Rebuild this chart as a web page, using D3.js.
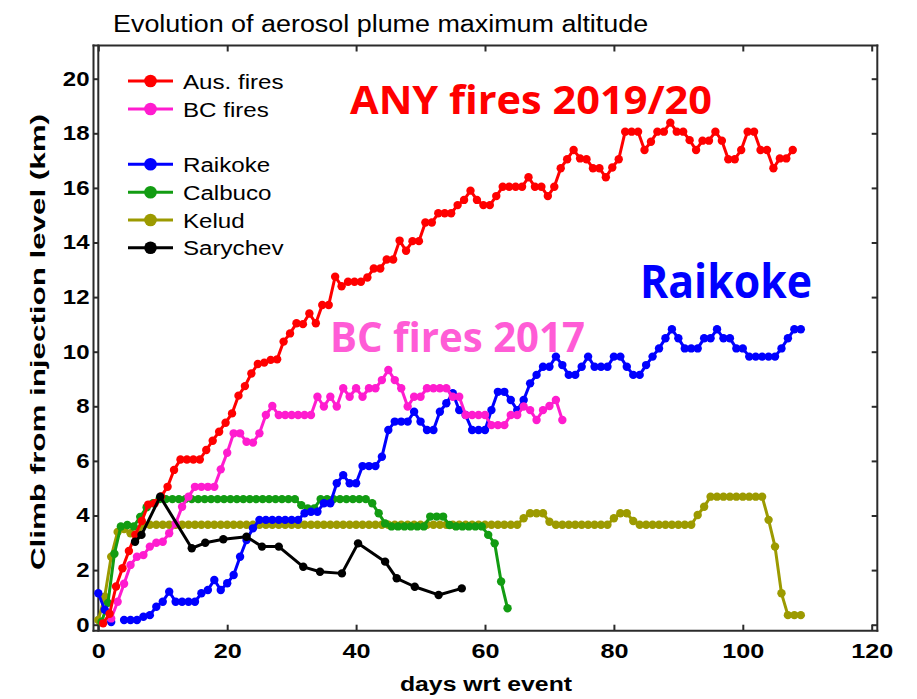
<!DOCTYPE html>
<html>
<head>
<meta charset="utf-8">
<script src="https://cdn.jsdelivr.net/npm/d3@7"></script>
<style>
  body { margin: 0; background: #fff; }
  svg { display: block; }
</style>
</head>
<body>
<svg id="chart" width="917" height="699"></svg>
<script>

//  1] Data --------------------------------------------//

// daily series: first day + one value per day (null = no retrieval)
const ausStart = 0.75
const ausFires = [
  0.05, 0.4, 1.4, 2.07, 2.7, 3.3, 3.8, 4.4, 4.45, 4.7,
  5.05, 5.67, 6.05, 6.05, 6.05, 6.05, 6.4, 6.74, 7.07, 7.4,
  7.74, 8.39, 8.74, 9.2, 9.55, 9.6, 9.7, 9.72, 10.37, 10.67,
  11.04, 11.01, 11.4, 11.04, 11.71, 11.71, 12.75, 12.4, 12.56, 12.56,
  12.56, 12.72, 13.05, 13.05, 13.38, 13.38, 14.07, 13.7, 14.05, 14.05,
  14.73, 14.73, 15.07, 15.07, 15.07, 15.37, 15.56, 15.9, 15.56, 15.37,
  15.37, 15.7, 16.04, 16.04, 16.04, 16.04, 16.39, 16.04, 16.04, 15.7,
  16.04, 16.72, 17.05, 17.39, 17.08, 17.05, 16.72, 16.72, 16.39, 16.75,
  17.05, 18.06, 18.06, 18.06, 17.39, 17.69, 18.06, 18.06, 18.39, 18.06,
  18.06, 17.75, 17.39, 17.73, 17.73, 18.06, 17.73, 17.05, 17.05, 17.39,
  18.06, 18.06, 17.39, 17.39, 16.72, 17.08, 17.08, 17.39
]

const bcStart = 2
const bcFires = [
  0.23, 0.84, 1.5, 2.19, 2.49, 2.55, 2.86, 3.0, 3.04, 3.35,
  3.71, 4.32, 4.69, 5.05, 5.05, 5.05, 5.05, 5.69, 6.3, 7.01,
  7.01, 6.7, 6.67, 7.01, 7.68, 8.01, 7.68, 7.68, 7.68, 7.68,
  7.68, 7.68, 8.35, 7.99, 8.35, 7.99, 8.66, 8.35, 8.66, 8.35,
  8.66, 8.66, 8.96, 9.33, 8.96, 8.66, 7.99, 8.35, 8.35, 8.66,
  8.66, 8.66, 8.66, 8.35, 8.35, 7.68, 7.68, 7.68, 7.68, 7.31,
  7.31, 7.31, 7.68, 7.68, 7.99, 7.86, 7.5, 7.86, 8.01, 8.23,
  7.5
]

const raikokeStart = 0
const raikoke = [
  1.15, 0.55, 0.1, null, 0.17, 0.17, 0.17, 0.29, 0.35, 0.66,
  0.84, 1.21, 0.84, 0.84, 0.84, 0.84, 1.15, 1.27, 1.64, 1.27,
  1.52, 1.82, 2.49, 3.1, 3.53, 3.84, 3.84, 3.84, 3.84, 3.84,
  3.84, 3.84, 4.08, 4.14, 4.14, 4.45, 4.45, 5.18, 5.48, 5.18,
  5.18, 5.81, 5.81, 5.81, 6.15, 7.13, 7.44, 7.44, 7.44, 7.8,
  7.44, 7.13, 7.13, 7.8, 8.11, 8.48, 7.86, 7.68, 7.13, 7.13,
  7.13, 7.86, 8.53, 8.53, 8.23, 7.86, 8.23, 8.84, 9.15, 9.45,
  9.45, 9.82, 9.51, 9.15, 9.15, 9.45, 9.82, 9.45, 9.45, 9.45,
  9.82, 9.82, 9.45, 9.15, 9.15, 9.51, 9.82, 10.12, 10.49, 10.82,
  10.49, 10.12, 10.12, 10.12, 10.49, 10.49, 10.82, 10.49, 10.49, 10.12,
  10.12, 9.82, 9.82, 9.82, 9.82, 9.82, 10.12, 10.49, 10.82, 10.82
]

const calbucoStart = 0.5
const calbuco = [
  0.1, 0.8, 2.6, 3.6, 3.65, 3.6, 3.95, 4.3, 4.45, 4.6,
  4.6, 4.6, 4.6, 4.6, 4.6, 4.6, 4.6, 4.6, 4.6, 4.6,
  4.6, 4.6, 4.6, 4.6, 4.6, 4.6, 4.6, 4.6, 4.6, 4.6,
  4.6, 4.38, 4.26, 4.26, 4.6, 4.6, 4.6, 4.6, 4.6, 4.6,
  4.6, 4.6, 4.45, 4.08, 3.71, 3.6, 3.6, 3.6, 3.6, 3.6,
  3.6, 3.96, 3.96, 3.96, 3.65, 3.6, 3.6, 3.6, 3.6, 3.6,
  3.29, 2.98, 1.58, 0.6
]

const keludStart = 0
const kelud = [
  0.17, 1.03, 2.49, 3.4, 3.5, 3.35, 3.25, 3.66, 3.66, 3.66,
  3.66, 3.66, 3.66, 3.66, 3.66, 3.66, 3.66, 3.66, 3.66, 3.66,
  3.66, 3.66, 3.66, 3.66, 3.66, 3.66, 3.66, 3.66, 3.66, 3.66,
  3.66, 3.66, 3.66, 3.66, 3.66, 3.66, 3.66, 3.66, 3.66, 3.66,
  3.66, 3.66, 3.66, 3.66, 3.66, 3.66, 3.66, 3.66, 3.66, 3.66,
  3.66, 3.66, 3.66, 3.66, 3.66, 3.66, 3.66, 3.66, 3.66, 3.66,
  3.66, 3.66, 3.66, 3.66, 3.66, 3.66, 3.9, 4.08, 4.08, 4.08,
  3.77, 3.66, 3.66, 3.66, 3.66, 3.66, 3.66, 3.66, 3.66, 3.66,
  3.9, 4.08, 4.08, 3.8, 3.66, 3.66, 3.66, 3.66, 3.66, 3.66,
  3.66, 3.66, 3.66, 4.02, 4.32, 4.69, 4.69, 4.69, 4.69, 4.69,
  4.69, 4.69, 4.69, 4.69, 3.84, 2.86, 1.15, 0.35, 0.35, 0.35
]

// Sarychev is sampled irregularly
const sarychevDays = [5.7, 6.7, 9.6, 14.5, 16.6, 19.4, 23, 25.4, 28, 31.8,
  34.4, 37.8, 40.3, 44.5, 46.3, 49.1, 52.8, 56.4]
const sarychev = [3.04, 3.29, 4.69, 2.8, 3.0, 3.13, 3.22, 2.86, 2.86, 2.12,
  1.94, 1.88, 2.98, 2.31, 1.7, 1.39, 1.09, 1.33]

const legendLabels = ['Aus. fires', 'BC fires', 'Raikoke', 'Calbuco', 'Kelud', 'Sarychev']
const xTicks = [0, 20, 40, 60, 80, 100, 120]
const yTicks = [0, 2, 4, 6, 8, 10, 12, 14, 16, 18, 20]

const titleText = 'Evolution of aerosol plume maximum altitude'
const xLabel = 'days wrt event'
const yLabel = 'Climb from injection level (km)'


//  2] Scales and frame ------------------------------//

const xScale = d3.scaleLinear().domain([0, 120]).range([98.3, 871.7])
const yScale = d3.scaleLinear().domain([0, 20]).range([624.7, 78.7])

const frame = { outer: 93.5, inner: 98.3, right: 877.3, top: 45.5, bottom: 630.7 }
const axisColor = '#2b2b2b'

const svg = d3.select('#chart')
svg.append('rect').attr('width', 917).attr('height', 699).attr('fill', '#fff')

const daily = (start, values) => values.map((v, i) => ({ day: start + i, value: v }))

const series = [
  { name: 'Kelud', color: '#9c9a00', points: daily(keludStart, kelud) },
  { name: 'Calbuco', color: '#129c12', points: daily(calbucoStart, calbuco) },
  { name: 'Raikoke', color: '#0000ff', points: daily(raikokeStart, raikoke) },
  { name: 'BC fires', color: '#ff1ccf', points: daily(bcStart, bcFires) },
  { name: 'Aus. fires', color: '#ff0000', points: daily(ausStart, ausFires) },
  { name: 'Sarychev', color: '#000000', points: sarychevDays.map((d, i) => ({ day: d, value: sarychev[i] })) }
]
const colorOf = name => series.find(s => s.name === name).color


//  3] Axes  ------------------------------------------//

const tickFont = g => g.selectAll('text')
  .attr('font-family', '"Liberation Sans", Arial, sans-serif')
  .attr('font-size', 20)
  .attr('font-weight', 'bold')
  .attr('fill', '#000')

const yAxis = d3.axisLeft(yScale).tickValues(yTicks)
  .tickSize(frame.inner - frame.outer).tickPadding(4)
svg.append('g')
  .attr('transform', `translate(${frame.inner},0)`)
  .call(yAxis)
  .call(tickFont)
  .call(g => g.selectAll('text').attr('x', -8.8 / 1.2).attr('transform', 'scale(1.2,1)'))

const xAxis = d3.axisBottom(xScale).tickValues(xTicks)
  .tickSizeInner(-6).tickSizeOuter(0).tickPadding(12).tickFormat(d3.format('d'))
svg.append('g')
  .attr('transform', `translate(0,${frame.bottom})`)
  .call(xAxis)
  .call(tickFont)
  .call(g => g.selectAll('text').attr('font-size', 21).attr('transform', 'scale(1.2,1)'))

svg.append('g')
  .attr('transform', `translate(0,${frame.top})`)
  .call(d3.axisTop(xScale).tickValues(xTicks).tickSize(-6).tickFormat(''))

svg.append('g')
  .attr('transform', `translate(${frame.right},0)`)
  .call(d3.axisRight(yScale).tickValues(yTicks).tickSize(-(frame.right - xScale(120))).tickFormat(''))

svg.selectAll('.domain').remove()
svg.selectAll('.tick line').attr('stroke', axisColor).attr('stroke-width', 2)

// box: double line on the left, single elsewhere
const frameLines = [
  [frame.outer, frame.top, frame.right, frame.top],
  [frame.outer, frame.bottom, frame.right, frame.bottom],
  [frame.outer, frame.top, frame.outer, frame.bottom],
  [frame.inner, frame.top, frame.inner, frame.bottom],
  [frame.right, frame.top, frame.right, frame.bottom]
]
svg.append('g').selectAll('line').data(frameLines).join('line')
  .attr('x1', d => d[0]).attr('y1', d => d[1])
  .attr('x2', d => d[2]).attr('y2', d => d[3])
  .attr('stroke', axisColor).attr('stroke-width', 2)
  .attr('stroke-linecap', 'square')


//  4] Lines and markers -----------------------------//

const line = d3.line()
  .defined(d => d.value !== null)
  .x(d => xScale(d.day))
  .y(d => yScale(d.value))

series.forEach(s => {
  const g = svg.append('g')
  g.append('path')
    .attr('d', line(s.points))
    .attr('fill', 'none')
    .attr('stroke', s.color)
    .attr('stroke-width', 3)
    .attr('stroke-linejoin', 'round')
  g.selectAll('circle')
    .data(s.points.filter(d => d.value !== null))
    .join('circle')
    .attr('cx', d => xScale(d.day))
    .attr('cy', d => yScale(d.value))
    .attr('r', 4.2)
    .attr('fill', s.color)
})


//  5] Texts: title, axis labels, annotations, legend //

const sans = '"Liberation Sans", Arial, sans-serif'

svg.append('text')
  .attr('transform', 'translate(113,31.5) scale(1.145,1)')
  .attr('font-family', sans).attr('font-size', 23.5)
  .text(titleText)

svg.append('text')
  .attr('transform', 'translate(486,691) scale(1.18,1)')
  .attr('text-anchor', 'middle')
  .attr('font-family', sans).attr('font-size', 21).attr('font-weight', 'bold')
  .text(xLabel)

svg.append('text')
  .attr('transform', 'translate(45,342) rotate(-90)')
  .attr('text-anchor', 'middle')
  .attr('font-family', sans).attr('font-size', 20.5).attr('font-weight', 'bold')
  .attr('textLength', 456).attr('lengthAdjust', 'spacingAndGlyphs')
  .text(yLabel)

const notes = [
  { text: 'ANY fires 2019/20', x: 350, y: 113.5, size: 40, len: 362, color: '#ff0000' },
  { text: 'Raikoke', x: 640, y: 298, size: 47, len: 172, color: '#0000ff' },
  { text: 'BC fires 2017', x: 330, y: 352, size: 41, len: 255, color: '#ff5cd6' }
]
svg.append('g').selectAll('text').data(notes).join('text')
  .attr('x', d => d.x).attr('y', d => d.y)
  .attr('font-family', '"Open Sans", Lato, sans-serif')
  .attr('font-weight', 'bold')
  .attr('font-size', d => d.size)
  .attr('textLength', d => d.len).attr('lengthAdjust', 'spacingAndGlyphs')
  .attr('fill', d => d.color)
  .text(d => d.text)

const legendY = [81, 109, 164.3, 192.3, 220, 247.7]
const legend = svg.append('g').selectAll('g').data(legendLabels).join('g')
  .attr('transform', (d, i) => `translate(0,${legendY[i]})`)
legend.append('line')
  .attr('x1', 128).attr('x2', 173)
  .attr('stroke', d => colorOf(d)).attr('stroke-width', 3)
legend.append('circle')
  .attr('cx', 150.5).attr('r', 6.3)
  .attr('fill', d => colorOf(d))
legend.append('text')
  .attr('transform', 'translate(183,7.5) scale(1.15,1)')
  .attr('font-family', sans).attr('font-size', 21)
  .text(d => d)

</script>
</body>
</html>
